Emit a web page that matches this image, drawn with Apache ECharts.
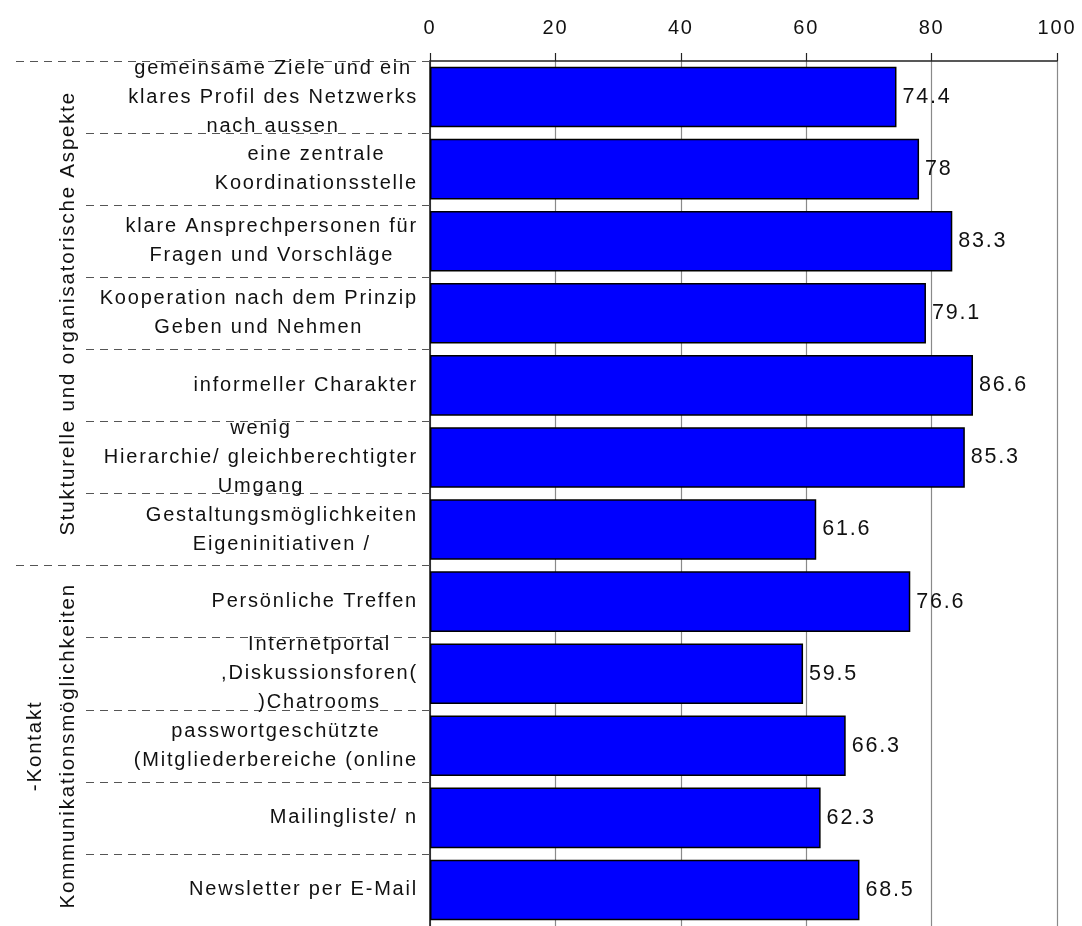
<!DOCTYPE html>
<html>
<head>
<meta charset="utf-8">
<script src="https://cdn.jsdelivr.net/npm/echarts@6/dist/echarts.min.js"></script>
<style>
html,body{margin:0;padding:0;background:#fff;}
#chart{width:1082px;height:926px;}
</style>
</head>
<body>
<div id="chart"></div>
<script>
// ---- data ----
const categories = [
  "gemeinsame Ziele und ein\nklares Profil des Netzwerks\nnach aussen",
  "eine zentrale\nKoordinationsstelle",
  "klare Ansprechpersonen für\nFragen und Vorschläge",
  "Kooperation nach dem Prinzip\nGeben und Nehmen",
  "informeller Charakter",
  "wenig\nHierarchie/ gleichberechtigter\nUmgang",
  "Gestaltungsmöglichkeiten\nEigeninitiativen /",
  "Persönliche Treffen",
  "Internetportal\n,Diskussionsforen(\n)Chatrooms",
  "passwortgeschützte\n(Mitgliederbereiche (online",
  "Mailingliste/ n",
  "Newsletter per E-Mail"
];
const values = [74.4, 78, 83.3, 79.1, 86.6, 85.3, 61.6, 76.6, 59.5, 66.3, 62.3, 68.5];
const groupNames = ["Stukturelle und organisatorische Aspekte", "-Kontakt\nKommunikationsmöglichkeiten"];
const groupStarts = [0, 7];   // first category index of each group
const groupEnds = [6, 11];    // last category index of each group
const xMin = 0, xMax = 100, xStep = 20;

// the reference renders its text with a little character spacing;
// apply it both when measuring and when drawing so layouts stay consistent
(function () {
  const SP = '1.8px';
  const proto = CanvasRenderingContext2D.prototype;
  if (!('letterSpacing' in proto)) { return; }
  const origFill = proto.fillText;
  const origMeasure = proto.measureText;
  proto.fillText = function () { this.letterSpacing = SP; return origFill.apply(this, arguments); };
  proto.measureText = function () { this.letterSpacing = SP; return origMeasure.apply(this, arguments); };
})();

const FONT = '"Liberation Sans", Arial, sans-serif';
const chart = echarts.init(document.getElementById('chart'), null, {renderer: 'canvas'});

const option = {
  backgroundColor: '#ffffff',
  animation: false,
  grid: {left: 430, right: 25, top: 61, bottom: -4, containLabel: false},
  xAxis: {
    type: 'value', position: 'top', min: xMin, max: xMax, interval: xStep,
    axisLine: {show: true, lineStyle: {color: '#222', width: 1.5}},
    axisTick: {show: true, inside: false, length: 8, lineStyle: {color: '#222', width: 1.2}},
    axisLabel: {fontFamily: FONT, fontSize: 20, color: '#111', margin: 22},
    splitLine: {show: true, lineStyle: {color: '#8a8a8a', width: 1.2}}
  },
  yAxis: [
    {
      type: 'category', data: categories, inverse: true, position: 'left', offset: 0,
      axisLine: {show: true, lineStyle: {color: '#111', width: 1.5}},
      axisTick: {show: true, inside: false, length: 346, lineStyle: {color: '#555', width: 1.2, type: [8, 6]}},
      axisLabel: {
        margin: 12, align: 'right',
        formatter: function (v) { return v.split('\n').map(s => '{c|' + s + '}').join('\n'); },
        rich: {c: {align: 'center', fontFamily: FONT, fontSize: 20, color: '#111', lineHeight: 29}}
      },
      splitLine: {show: false}
    },
    {
      type: 'category', data: categories, inverse: true, position: 'left', offset: 0,
      axisLine: {show: false},
      axisTick: {show: true, inside: false, length: 418,
        interval: function (i) { return groupStarts.indexOf(i) >= 0; },
        lineStyle: {color: '#555', width: 1.2, type: [8, 6]}},
      axisLabel: {show: false},
      splitLine: {show: false}
    }
  ],
  series: [{
    type: 'bar', data: values, yAxisIndex: 0, barCategoryGap: '16%',
    itemStyle: {color: '#0000ff', borderColor: '#000', borderWidth: 1.5},
    label: {show: true, position: 'right', distance: 6, fontFamily: FONT, fontSize: 21.5, color: '#111',
      formatter: function (p) { return String(p.value); }}
  }]
};
chart.setOption(option);

// group labels placed with the axis' own scale
const graphics = groupNames.map(function (name, g) {
  const y1 = chart.convertToPixel({yAxisIndex: 0}, categories[groupStarts[g]]);
  const y2 = chart.convertToPixel({yAxisIndex: 0}, categories[groupEnds[g]]);
  const cy = (y1 + y2) / 2;
  const twoLines = name.indexOf('\n') >= 0;
  return {
    type: 'text', x: twoLines ? 52 : 68, y: cy, rotation: Math.PI / 2,
    style: {text: name, fontFamily: FONT, fontSize: 20.5, fill: '#111', align: 'center', verticalAlign: 'middle', lineHeight: 33}
  };
});
chart.setOption({graphic: graphics});
</script>
</body>
</html>
